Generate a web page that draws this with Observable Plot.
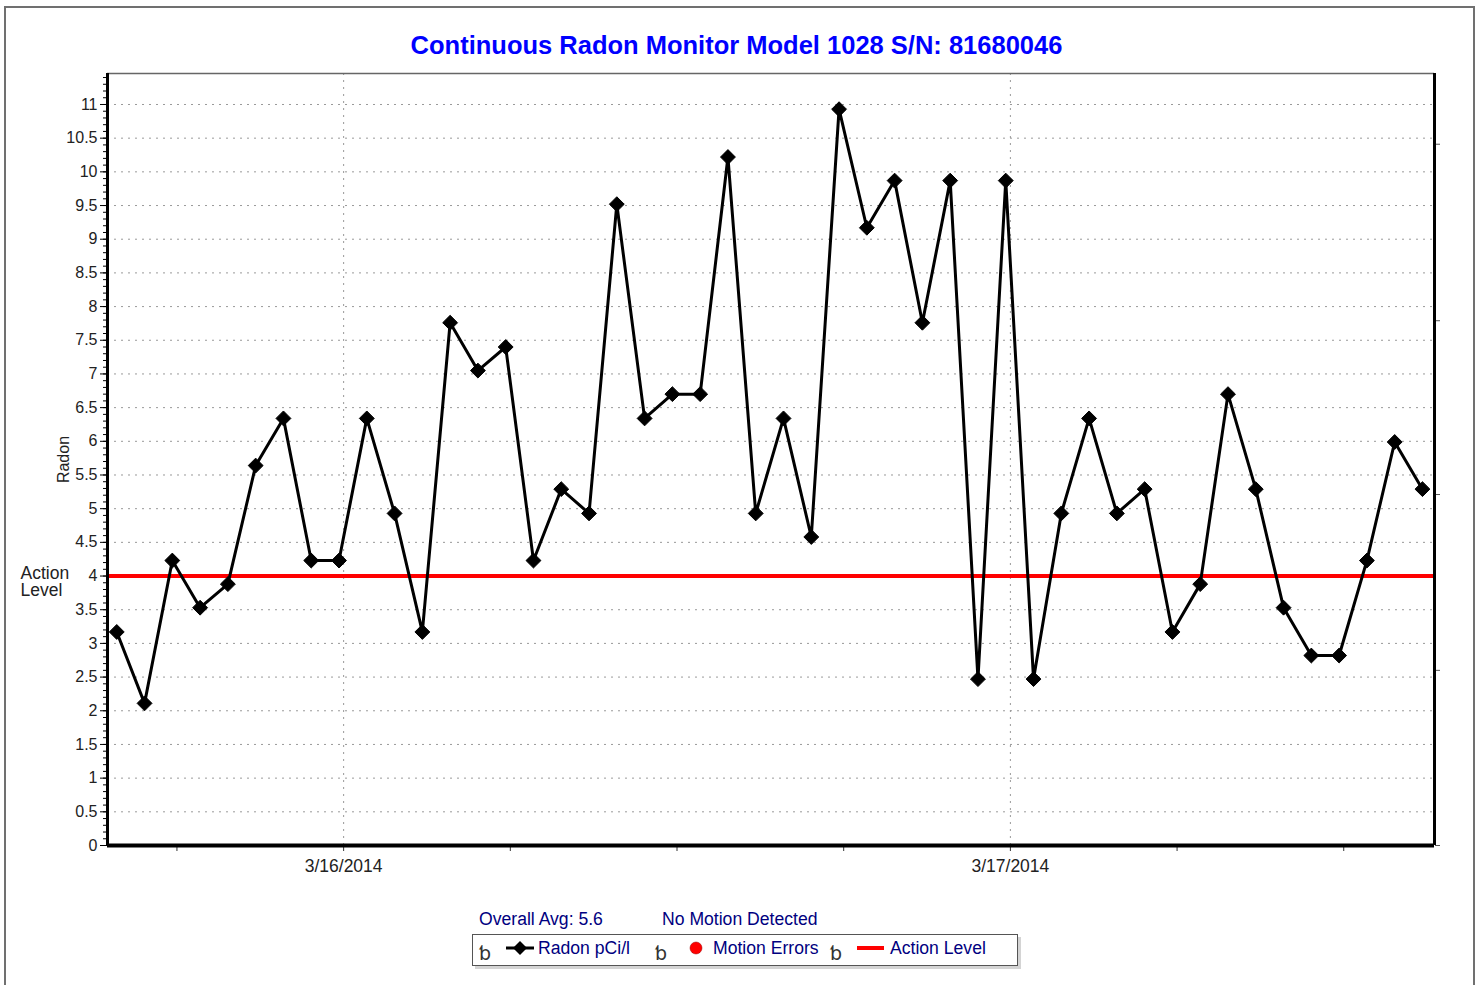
<!DOCTYPE html>
<html><head><meta charset="utf-8">
<script src="https://cdn.jsdelivr.net/npm/d3@7"></script>
<script src="https://cdn.jsdelivr.net/npm/@observablehq/plot@0.6"></script>
<style>
body{margin:0;background:#fff;font-family:"Liberation Sans",Arial,sans-serif;}
#wrap{position:relative;width:1479px;height:985px;overflow:hidden;background:#fff;}
#border{position:absolute;left:4px;top:6px;width:1467px;height:1000px;border:2px solid #707070;}
#title{position:absolute;left:0;width:1473px;top:30px;text-align:center;font-weight:bold;font-size:25.5px;line-height:30px;color:#0000ff;}
#chart{position:absolute;left:0;top:0;}
.leg{position:absolute;color:#000080;font-size:17.6px;line-height:18px;white-space:nowrap;}
.gl{position:absolute;color:#333;font-family:"DejaVu Sans",sans-serif;font-size:19px;line-height:19px;}
#legbox{position:absolute;left:472px;top:934px;width:544px;height:30px;border:1.5px solid #555;box-shadow:3px 3px 0 #d4d4d4;background:#fff;}
</style></head><body>
<div id="wrap">
  <div id="border"></div>
  <div id="title">Continuous Radon Monitor Model 1028 S/N: 81680046</div>
  <div id="chart"></div>
  <div class="leg" style="left:479px;top:910px;">Overall Avg: 5.6</div>
  <div class="leg" style="left:662px;top:910px;">No Motion Detected</div>
  <div id="legbox"></div>
  <div class="gl" style="left:479px;top:944px;">ƅ</div>
  <svg style="position:absolute;left:504px;top:940px" width="32" height="16"><line x1="2" y1="8" x2="30" y2="8" stroke="#000" stroke-width="3"/><path d="M16,1 L23,8 L16,15 L9,8 Z" fill="#000"/></svg>
  <div class="leg" style="left:538px;top:939px;">Radon pCi/l</div>
  <div class="gl" style="left:655px;top:944px;">ƅ</div>
  <svg style="position:absolute;left:688px;top:940px" width="16" height="16"><circle cx="8" cy="8" r="6" fill="#ff0000" stroke="#900" stroke-width="0.5"/></svg>
  <div class="leg" style="left:713px;top:939px;">Motion Errors</div>
  <div class="gl" style="left:830px;top:944px;">ƅ</div>
  <svg style="position:absolute;left:855px;top:940px" width="32" height="16"><line x1="2" y1="8" x2="29" y2="8" stroke="#ff0000" stroke-width="4"/></svg>
  <div class="leg" style="left:890px;top:939px;">Action Level</div>
</div>
<script>
// hourly reading timestamps (UTC used as local clock time)
const readingTimes = [
  "2014-03-15T15:50Z","2014-03-15T16:50Z","2014-03-15T17:50Z","2014-03-15T18:50Z","2014-03-15T19:50Z",
  "2014-03-15T20:50Z","2014-03-15T21:50Z","2014-03-15T22:50Z","2014-03-15T23:50Z",
  "2014-03-16T00:50Z","2014-03-16T01:50Z","2014-03-16T02:50Z","2014-03-16T03:50Z","2014-03-16T04:50Z",
  "2014-03-16T05:50Z","2014-03-16T06:50Z","2014-03-16T07:50Z","2014-03-16T08:50Z","2014-03-16T09:50Z",
  "2014-03-16T10:50Z","2014-03-16T11:50Z","2014-03-16T12:50Z","2014-03-16T13:50Z","2014-03-16T14:50Z",
  "2014-03-16T15:50Z","2014-03-16T16:50Z","2014-03-16T17:50Z","2014-03-16T18:50Z","2014-03-16T19:50Z",
  "2014-03-16T20:50Z","2014-03-16T21:50Z","2014-03-16T22:50Z","2014-03-16T23:50Z",
  "2014-03-17T00:50Z","2014-03-17T01:50Z","2014-03-17T02:50Z","2014-03-17T03:50Z","2014-03-17T04:50Z",
  "2014-03-17T05:50Z","2014-03-17T06:50Z","2014-03-17T07:50Z","2014-03-17T08:50Z","2014-03-17T09:50Z",
  "2014-03-17T10:50Z","2014-03-17T11:50Z","2014-03-17T12:50Z","2014-03-17T13:50Z","2014-03-17T14:50Z"
];
// Radon pCi/l
const radon = [
  3.17, 2.11, 4.23, 3.53, 3.88, 5.64, 6.34, 4.23, 4.23, 6.34, 4.93, 3.17,
  7.76, 7.05, 7.40, 4.23, 5.29, 4.93, 9.52, 6.34, 6.70, 6.70, 10.22, 4.93,
  6.34, 4.58, 10.93, 9.17, 9.87, 7.76, 9.87, 2.47, 9.87, 2.47, 4.93, 6.34,
  4.93, 5.29, 3.17, 3.88, 6.70, 5.29, 3.53, 2.82, 2.82, 4.23, 5.99, 5.29
];
const actionLevel = 4;
const yTickValues = [0,0.5,1,1.5,2,2.5,3,3.5,4,4.5,5,5.5,6,6.5,7,7.5,8,8.5,9,9.5,10,10.5,11];
const dayTicks = ["2014-03-16T00:00Z","2014-03-17T00:00Z"];
const xDomainStr = ["2014-03-15T15:30Z","2014-03-17T15:16Z"];
const yDomain = [0, 11.46];
const secondaryTicks = [0, 2.6, 5.21, 7.79, 10.41];

const data = readingTimes.map((t, i) => ({time: new Date(t), radon: radon[i]}));
const xDomain = xDomainStr.map(d => new Date(d));
const days = dayTicks.map(d => new Date(d));
const sixHour = d3.utcHour.every(6).range(xDomain[0], xDomain[1]);
const minorY = d3.range(0, 11.45, 0.1);
const fmtDay = d3.utcFormat("%-m/%-d/%Y");

const chart = Plot.plot({
  width: 1479, height: 900,
  marginLeft: 107, marginRight: 45, marginTop: 73, marginBottom: 55,
  x: {type: "utc", domain: xDomain},
  y: {domain: yDomain},
  style: {fontFamily: "'Liberation Sans', Arial, sans-serif", fontSize: "16px", color: "#222", background: "transparent", overflow: "visible"},
  marks: [
    Plot.gridY(yTickValues, {stroke: "#999", strokeOpacity: 1, strokeDasharray: "2,5"}),
    Plot.gridX(days, {stroke: "#999", strokeOpacity: 1, strokeDasharray: "2,5"}),
    Plot.axisY(minorY, {tickSize: 4, tickFormat: () => "", stroke: "#000", label: null}),
    Plot.axisY(yTickValues, {tickSize: 7, tickPadding: 3, tickFormat: d => String(d), stroke: "#000", fontSize: 16,
      label: "Radon", labelAnchor: "center", labelOffset: 50, labelArrow: "none"}),
    Plot.axisY(secondaryTicks, {anchor: "right", tickSize: 5, tickFormat: () => "", stroke: "#555", label: null}),
    Plot.axisX(sixHour, {tickSize: 6, tickPadding: 8, stroke: "#333", fontSize: 17.5,
      tickFormat: d => d.getUTCHours() === 0 ? fmtDay(d) : "", label: null}),
    Plot.ruleY([actionLevel], {stroke: "#ff0000", strokeWidth: 4}),
    Plot.ruleY([yDomain[1]], {stroke: "#666", strokeWidth: 1.5}),
    Plot.ruleX([xDomain[0]], {stroke: "#000", strokeWidth: 3}),
    Plot.ruleX([xDomain[1]], {stroke: "#000", strokeWidth: 3}),
    Plot.ruleY([0], {stroke: "#000", strokeWidth: 4}),
    Plot.line(data, {x: "time", y: "radon", stroke: "#000", strokeWidth: 3}),
    Plot.dot(data, {x: "time", y: "radon", symbol: "diamond2", r: 6.7, fill: "#000", stroke: "#000", strokeWidth: 1}),
    Plot.text([actionLevel], {y: d => d, text: () => "Action\nLevel", frameAnchor: "left", dx: -87, dy: 6,
      textAnchor: "start", lineAnchor: "middle", fontSize: 17.5, fill: "#222"})
  ]
});
document.getElementById("chart").appendChild(chart);
</script>
</body></html>
